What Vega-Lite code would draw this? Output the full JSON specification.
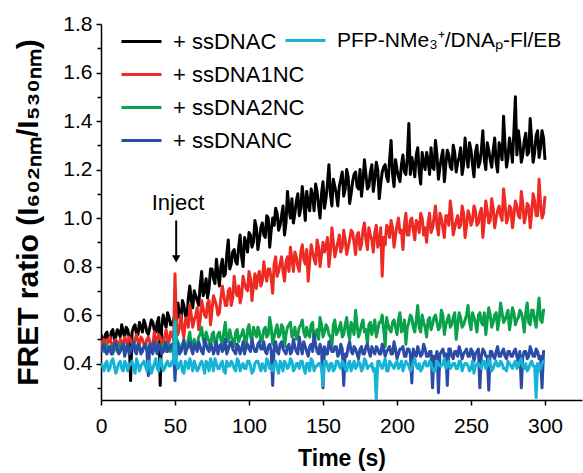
{
  "$schema": "https://vega.github.io/schema/vega-lite/v6.json",
  "width": 481,
  "height": 376,
  "autosize": {"type": "none"},
  "padding": {"left": 101, "top": 24, "right": 1, "bottom": 73},
  "background": "white",
  "config": {
    "view": {"stroke": null},
    "font": "Liberation Sans",
    "axis": {
      "domainColor": "#000000", "domainWidth": 1.5, "tickColor": "#000000", "tickWidth": 1.5, "tickSize": 5,
      "labelColor": "#000000", "labelFont": "Liberation Sans", "labelFontSize": 21,
      "titleColor": "#000000", "titleFont": "Liberation Sans", "titleFontWeight": "bold",
      "grid": false, "labelOverlap": false, "labelFlush": false, "labelBound": false
    },
    "legend": {"labelFontSize": 22, "labelLimit": 400, "labelColor": "#000000", "labelFont": "Liberation Sans"}
  },
  "datasets": {
    "ts": [
      {"t":0,"C":0.52,"N1":0.47,"N2":0.47,"NC":0.45,"P":0.40},
      {"t":2,"C":0.49,"N1":0.50,"N2":0.45,"NC":0.48,"P":0.37},
      {"t":4,"C":0.53,"N1":0.48,"N2":0.48,"NC":0.44,"P":0.41},
      {"t":6,"C":0.50,"N1":0.51,"N2":0.46,"NC":0.47,"P":0.38},
      {"t":8,"C":0.54,"N1":0.47,"N2":0.44,"NC":0.45,"P":0.42},
      {"t":10,"C":0.51,"N1":0.50,"N2":0.48,"NC":0.49,"P":0.36},
      {"t":12,"C":0.53,"N1":0.46,"N2":0.46,"NC":0.44,"P":0.40},
      {"t":14,"C":0.56,"N1":0.49,"N2":0.47,"NC":0.47,"P":0.38},
      {"t":16,"C":0.51,"N1":0.51,"N2":0.45,"NC":0.43,"P":0.41},
      {"t":18,"C":0.54,"N1":0.48,"N2":0.48,"NC":0.48,"P":0.37},
      {"t":20,"C":0.33,"N1":0.50,"N2":0.46,"NC":0.45,"P":0.40},
      {"t":22,"C":0.55,"N1":0.47,"N2":0.49,"NC":0.49,"P":0.38},
      {"t":24,"C":0.52,"N1":0.52,"N2":0.45,"NC":0.44,"P":0.42},
      {"t":26,"C":0.57,"N1":0.48,"N2":0.47,"NC":0.47,"P":0.37},
      {"t":28,"C":0.53,"N1":0.50,"N2":0.46,"NC":0.45,"P":0.40},
      {"t":30,"C":0.56,"N1":0.47,"N2":0.48,"NC":0.48,"P":0.39},
      {"t":32,"C":0.52,"N1":0.51,"N2":0.45,"NC":0.35,"P":0.41},
      {"t":34,"C":0.58,"N1":0.48,"N2":0.47,"NC":0.46,"P":0.36},
      {"t":36,"C":0.54,"N1":0.53,"N2":0.46,"NC":0.49,"P":0.40},
      {"t":38,"C":0.57,"N1":0.49,"N2":0.48,"NC":0.44,"P":0.38},
      {"t":40,"C":0.31,"N1":0.51,"N2":0.46,"NC":0.47,"P":0.42},
      {"t":42,"C":0.60,"N1":0.48,"N2":0.47,"NC":0.45,"P":0.37},
      {"t":44,"C":0.55,"N1":0.54,"N2":0.45,"NC":0.49,"P":0.40},
      {"t":46,"C":0.59,"N1":0.49,"N2":0.48,"NC":0.46,"P":0.39},
      {"t":48,"C":0.56,"N1":0.52,"N2":0.47,"NC":0.48,"P":0.41},
      {"t":50,"C":0.60,"N1":0.77,"N2":0.58,"NC":0.33,"P":0.57},
      {"t":52,"C":0.65,"N1":0.52,"N2":0.49,"NC":0.48,"P":0.38},
      {"t":54,"C":0.57,"N1":0.60,"N2":0.45,"NC":0.45,"P":0.41},
      {"t":56,"C":0.64,"N1":0.51,"N2":0.49,"NC":0.50,"P":0.36},
      {"t":58,"C":0.58,"N1":0.59,"N2":0.47,"NC":0.46,"P":0.40},
      {"t":60,"C":0.72,"N1":0.64,"N2":0.53,"NC":0.49,"P":0.42},
      {"t":62,"C":0.63,"N1":0.55,"N2":0.48,"NC":0.44,"P":0.37},
      {"t":64,"C":0.68,"N1":0.60,"N2":0.46,"NC":0.47,"P":0.39},
      {"t":66,"C":0.64,"N1":0.54,"N2":0.51,"NC":0.49,"P":0.38},
      {"t":68,"C":0.78,"N1":0.66,"N2":0.55,"NC":0.45,"P":0.41},
      {"t":70,"C":0.70,"N1":0.60,"N2":0.48,"NC":0.50,"P":0.36},
      {"t":72,"C":0.67,"N1":0.65,"N2":0.51,"NC":0.46,"P":0.40},
      {"t":74,"C":0.79,"N1":0.56,"N2":0.46,"NC":0.48,"P":0.42},
      {"t":76,"C":0.75,"N1":0.68,"N2":0.53,"NC":0.44,"P":0.37},
      {"t":78,"C":0.83,"N1":0.64,"N2":0.49,"NC":0.49,"P":0.40},
      {"t":80,"C":0.72,"N1":0.61,"N2":0.53,"NC":0.47,"P":0.38},
      {"t":82,"C":0.83,"N1":0.72,"N2":0.48,"NC":0.45,"P":0.41},
      {"t":84,"C":0.77,"N1":0.64,"N2":0.57,"NC":0.50,"P":0.36},
      {"t":86,"C":0.91,"N1":0.70,"N2":0.49,"NC":0.46,"P":0.39},
      {"t":88,"C":0.81,"N1":0.64,"N2":0.51,"NC":0.49,"P":0.41},
      {"t":90,"C":0.87,"N1":0.76,"N2":0.47,"NC":0.45,"P":0.38},
      {"t":92,"C":0.81,"N1":0.68,"N2":0.54,"NC":0.48,"P":0.42},
      {"t":94,"C":0.93,"N1":0.65,"N2":0.51,"NC":0.44,"P":0.37},
      {"t":96,"C":0.80,"N1":0.76,"N2":0.54,"NC":0.49,"P":0.40},
      {"t":98,"C":0.90,"N1":0.71,"N2":0.47,"NC":0.47,"P":0.38},
      {"t":100,"C":0.94,"N1":0.78,"N2":0.56,"NC":0.46,"P":0.41},
      {"t":102,"C":0.88,"N1":0.66,"N2":0.50,"NC":0.50,"P":0.36},
      {"t":104,"C":0.99,"N1":0.77,"N2":0.53,"NC":0.45,"P":0.40},
      {"t":106,"C":0.87,"N1":0.76,"N2":0.55,"NC":0.48,"P":0.41},
      {"t":108,"C":0.96,"N1":0.72,"N2":0.49,"NC":0.46,"P":0.37},
      {"t":110,"C":0.93,"N1":0.82,"N2":0.54,"NC":0.49,"P":0.39},
      {"t":112,"C":1.01,"N1":0.74,"N2":0.51,"NC":0.44,"P":0.42},
      {"t":114,"C":0.88,"N1":0.79,"N2":0.59,"NC":0.48,"P":0.38},
      {"t":116,"C":1.00,"N1":0.69,"N2":0.48,"NC":0.31,"P":0.37},
      {"t":118,"C":1.04,"N1":0.84,"N2":0.54,"NC":0.49,"P":0.41},
      {"t":120,"C":0.95,"N1":0.78,"N2":0.51,"NC":0.44,"P":0.36},
      {"t":122,"C":1.01,"N1":0.84,"N2":0.56,"NC":0.49,"P":0.40},
      {"t":124,"C":0.93,"N1":0.74,"N2":0.47,"NC":0.45,"P":0.41},
      {"t":126,"C":1.11,"N1":0.84,"N2":0.55,"NC":0.47,"P":0.38},
      {"t":128,"C":1.00,"N1":0.88,"N2":0.57,"NC":0.44,"P":0.42},
      {"t":130,"C":0.98,"N1":0.78,"N2":0.52,"NC":0.50,"P":0.37},
      {"t":132,"C":1.07,"N1":0.84,"N2":0.50,"NC":0.45,"P":0.40},
      {"t":134,"C":1.01,"N1":0.78,"N2":0.55,"NC":0.51,"P":0.38},
      {"t":136,"C":1.13,"N1":0.89,"N2":0.58,"NC":0.44,"P":0.41},
      {"t":138,"C":0.99,"N1":0.81,"N2":0.51,"NC":0.47,"P":0.36},
      {"t":140,"C":1.06,"N1":0.74,"N2":0.52,"NC":0.43,"P":0.40},
      {"t":142,"C":1.12,"N1":0.89,"N2":0.56,"NC":0.48,"P":0.42},
      {"t":144,"C":1.03,"N1":0.83,"N2":0.49,"NC":0.52,"P":0.37},
      {"t":146,"C":1.11,"N1":0.91,"N2":0.54,"NC":0.45,"P":0.39},
      {"t":148,"C":1.00,"N1":0.80,"N2":0.59,"NC":0.48,"P":0.40},
      {"t":150,"C":1.15,"N1":0.90,"N2":0.51,"NC":0.30,"P":0.31},
      {"t":152,"C":1.08,"N1":0.88,"N2":0.56,"NC":0.44,"P":0.41},
      {"t":154,"C":1.22,"N1":0.80,"N2":0.52,"NC":0.49,"P":0.37},
      {"t":156,"C":1.05,"N1":0.96,"N2":0.47,"NC":0.45,"P":0.40},
      {"t":158,"C":1.13,"N1":0.84,"N2":0.58,"NC":0.47,"P":0.38},
      {"t":160,"C":1.05,"N1":0.90,"N2":0.53,"NC":0.43,"P":0.41},
      {"t":162,"C":1.16,"N1":0.86,"N2":0.57,"NC":0.48,"P":0.38},
      {"t":164,"C":1.09,"N1":0.95,"N2":0.52,"NC":0.31,"P":0.40},
      {"t":166,"C":1.20,"N1":0.85,"N2":0.59,"NC":0.43,"P":0.37},
      {"t":168,"C":1.06,"N1":0.91,"N2":0.50,"NC":0.49,"P":0.41},
      {"t":170,"C":1.15,"N1":0.94,"N2":0.55,"NC":0.44,"P":0.39},
      {"t":172,"C":1.19,"N1":0.85,"N2":0.62,"NC":0.46,"P":0.38},
      {"t":174,"C":1.12,"N1":0.94,"N2":0.51,"NC":0.42,"P":0.41},
      {"t":176,"C":1.09,"N1":0.89,"N2":0.56,"NC":0.47,"P":0.37},
      {"t":178,"C":1.24,"N1":0.98,"N2":0.53,"NC":0.44,"P":0.42},
      {"t":180,"C":1.12,"N1":0.87,"N2":0.48,"NC":0.48,"P":0.38},
      {"t":182,"C":1.19,"N1":0.93,"N2":0.57,"NC":0.43,"P":0.39},
      {"t":184,"C":1.11,"N1":0.86,"N2":0.55,"NC":0.45,"P":0.37},
      {"t":186,"C":1.23,"N1":0.97,"N2":0.51,"NC":0.47,"P":0.25},
      {"t":188,"C":1.08,"N1":0.90,"N2":0.57,"NC":0.44,"P":0.41},
      {"t":190,"C":1.19,"N1":0.76,"N2":0.60,"NC":0.48,"P":0.38},
      {"t":192,"C":1.22,"N1":0.89,"N2":0.47,"NC":0.43,"P":0.42},
      {"t":194,"C":1.15,"N1":0.96,"N2":0.56,"NC":0.46,"P":0.37},
      {"t":196,"C":1.32,"N1":0.99,"N2":0.53,"NC":0.44,"P":0.40},
      {"t":198,"C":1.13,"N1":0.88,"N2":0.58,"NC":0.49,"P":0.38},
      {"t":200,"C":1.20,"N1":0.97,"N2":0.52,"NC":0.42,"P":0.41},
      {"t":202,"C":1.15,"N1":0.94,"N2":0.61,"NC":0.46,"P":0.39},
      {"t":204,"C":1.26,"N1":0.87,"N2":0.54,"NC":0.47,"P":0.37},
      {"t":206,"C":1.18,"N1":1.02,"N2":0.48,"NC":0.43,"P":0.41},
      {"t":208,"C":1.39,"N1":0.93,"N2":0.57,"NC":0.46,"P":0.39},
      {"t":210,"C":1.25,"N1":1.00,"N2":0.59,"NC":0.32,"P":0.38},
      {"t":212,"C":1.17,"N1":0.91,"N2":0.53,"NC":0.44,"P":0.42},
      {"t":214,"C":1.29,"N1":0.98,"N2":0.64,"NC":0.47,"P":0.38},
      {"t":216,"C":1.14,"N1":1.02,"N2":0.53,"NC":0.43,"P":0.37},
      {"t":218,"C":1.23,"N1":0.93,"N2":0.57,"NC":0.48,"P":0.40},
      {"t":220,"C":1.27,"N1":0.90,"N2":0.51,"NC":0.43,"P":0.39},
      {"t":222,"C":1.18,"N1":1.02,"N2":0.59,"NC":0.45,"P":0.41},
      {"t":224,"C":1.21,"N1":0.96,"N2":0.56,"NC":0.30,"P":0.38},
      {"t":226,"C":1.32,"N1":1.05,"N2":0.60,"NC":0.42,"P":0.37},
      {"t":228,"C":1.16,"N1":0.93,"N2":0.54,"NC":0.28,"P":0.40},
      {"t":230,"C":1.25,"N1":1.00,"N2":0.62,"NC":0.45,"P":0.39},
      {"t":232,"C":1.15,"N1":0.92,"N2":0.52,"NC":0.43,"P":0.42},
      {"t":234,"C":1.28,"N1":1.01,"N2":0.58,"NC":0.31,"P":0.39},
      {"t":236,"C":1.21,"N1":1.07,"N2":0.55,"NC":0.46,"P":0.38},
      {"t":238,"C":1.30,"N1":0.93,"N2":0.59,"NC":0.42,"P":0.40},
      {"t":240,"C":1.19,"N1":0.99,"N2":0.50,"NC":0.45,"P":0.38},
      {"t":242,"C":1.25,"N1":0.96,"N2":0.61,"NC":0.47,"P":0.41},
      {"t":244,"C":1.18,"N1":1.05,"N2":0.55,"NC":0.42,"P":0.37},
      {"t":246,"C":1.33,"N1":0.92,"N2":0.58,"NC":0.45,"P":0.40},
      {"t":248,"C":1.21,"N1":1.03,"N2":0.64,"NC":0.43,"P":0.39},
      {"t":250,"C":1.28,"N1":0.97,"N2":0.54,"NC":0.46,"P":0.38},
      {"t":252,"C":1.17,"N1":1.05,"N2":0.59,"NC":0.41,"P":0.36},
      {"t":254,"C":1.30,"N1":0.97,"N2":0.53,"NC":0.45,"P":0.40},
      {"t":256,"C":1.23,"N1":1.02,"N2":0.61,"NC":0.30,"P":0.39},
      {"t":258,"C":1.36,"N1":0.92,"N2":0.56,"NC":0.46,"P":0.41},
      {"t":260,"C":1.20,"N1":1.07,"N2":0.52,"NC":0.43,"P":0.38},
      {"t":262,"C":1.28,"N1":0.98,"N2":0.63,"NC":0.29,"P":0.42},
      {"t":264,"C":1.21,"N1":1.08,"N2":0.55,"NC":0.45,"P":0.37},
      {"t":266,"C":1.33,"N1":0.96,"N2":0.60,"NC":0.42,"P":0.40},
      {"t":268,"C":1.19,"N1":1.03,"N2":0.54,"NC":0.47,"P":0.39},
      {"t":270,"C":1.28,"N1":1.01,"N2":0.65,"NC":0.43,"P":0.41},
      {"t":272,"C":1.42,"N1":1.12,"N2":0.57,"NC":0.46,"P":0.38},
      {"t":274,"C":1.21,"N1":0.98,"N2":0.60,"NC":0.42,"P":0.37},
      {"t":276,"C":1.33,"N1":1.05,"N2":0.54,"NC":0.45,"P":0.40},
      {"t":278,"C":1.23,"N1":0.96,"N2":0.63,"NC":0.43,"P":0.38},
      {"t":280,"C":1.50,"N1":1.07,"N2":0.56,"NC":0.46,"P":0.41},
      {"t":282,"C":1.36,"N1":1.01,"N2":0.59,"NC":0.41,"P":0.39},
      {"t":284,"C":1.23,"N1":1.11,"N2":0.61,"NC":0.30,"P":0.42},
      {"t":286,"C":1.32,"N1":0.98,"N2":0.53,"NC":0.45,"P":0.38},
      {"t":288,"C":1.26,"N1":1.06,"N2":0.65,"NC":0.42,"P":0.37},
      {"t":290,"C":1.41,"N1":0.96,"N2":0.56,"NC":0.47,"P":0.40},
      {"t":292,"C":1.23,"N1":1.10,"N2":0.62,"NC":0.43,"P":0.39},
      {"t":294,"C":1.34,"N1":1.01,"N2":0.55,"NC":0.46,"P":0.26},
      {"t":296,"C":1.25,"N1":1.16,"N2":0.67,"NC":0.42,"P":0.37},
      {"t":298,"C":1.36,"N1":1.00,"N2":0.57,"NC":0.30,"P":0.40},
      {"t":300,"C":1.24,"N1":1.09,"N2":0.62,"NC":0.45,"P":0.41},
      {"t":1,"C":0.50,"N1":0.49,"N2":0.46,"NC":0.47,"P":0.39},
      {"t":3,"C":0.52,"N1":0.46,"N2":0.47,"NC":0.45,"P":0.40},
      {"t":5,"C":0.49,"N1":0.50,"N2":0.45,"NC":0.46,"P":0.37},
      {"t":7,"C":0.53,"N1":0.48,"N2":0.47,"NC":0.44,"P":0.41},
      {"t":9,"C":0.50,"N1":0.49,"N2":0.46,"NC":0.48,"P":0.39},
      {"t":11,"C":0.54,"N1":0.48,"N2":0.45,"NC":0.46,"P":0.38},
      {"t":13,"C":0.51,"N1":0.50,"N2":0.48,"NC":0.45,"P":0.41},
      {"t":15,"C":0.53,"N1":0.47,"N2":0.46,"NC":0.48,"P":0.37},
      {"t":17,"C":0.55,"N1":0.49,"N2":0.47,"NC":0.46,"P":0.40},
      {"t":19,"C":0.51,"N1":0.51,"N2":0.45,"NC":0.44,"P":0.39},
      {"t":21,"C":0.53,"N1":0.48,"N2":0.47,"NC":0.47,"P":0.41},
      {"t":23,"C":0.56,"N1":0.50,"N2":0.46,"NC":0.45,"P":0.36},
      {"t":25,"C":0.52,"N1":0.49,"N2":0.48,"NC":0.48,"P":0.40},
      {"t":27,"C":0.55,"N1":0.51,"N2":0.45,"NC":0.44,"P":0.39},
      {"t":29,"C":0.58,"N1":0.48,"N2":0.47,"NC":0.47,"P":0.41},
      {"t":31,"C":0.53,"N1":0.50,"N2":0.46,"NC":0.45,"P":0.37},
      {"t":33,"C":0.55,"N1":0.49,"N2":0.48,"NC":0.48,"P":0.40},
      {"t":35,"C":0.57,"N1":0.47,"N2":0.45,"NC":0.44,"P":0.38},
      {"t":37,"C":0.53,"N1":0.50,"N2":0.47,"NC":0.46,"P":0.42},
      {"t":39,"C":0.59,"N1":0.52,"N2":0.46,"NC":0.48,"P":0.37},
      {"t":41,"C":0.55,"N1":0.49,"N2":0.48,"NC":0.44,"P":0.40},
      {"t":43,"C":0.57,"N1":0.51,"N2":0.46,"NC":0.47,"P":0.38},
      {"t":45,"C":0.61,"N1":0.50,"N2":0.47,"NC":0.45,"P":0.41},
      {"t":47,"C":0.56,"N1":0.53,"N2":0.45,"NC":0.47,"P":0.39},
      {"t":49,"C":0.58,"N1":0.50,"N2":0.48,"NC":0.46,"P":0.40},
      {"t":51,"C":0.58,"N1":0.56,"N2":0.50,"NC":0.46,"P":0.40},
      {"t":53,"C":0.60,"N1":0.55,"N2":0.47,"NC":0.44,"P":0.40},
      {"t":55,"C":0.66,"N1":0.54,"N2":0.48,"NC":0.47,"P":0.37},
      {"t":57,"C":0.60,"N1":0.58,"N2":0.46,"NC":0.44,"P":0.41},
      {"t":59,"C":0.67,"N1":0.55,"N2":0.50,"NC":0.47,"P":0.38},
      {"t":61,"C":0.66,"N1":0.60,"N2":0.47,"NC":0.46,"P":0.40},
      {"t":63,"C":0.70,"N1":0.58,"N2":0.50,"NC":0.48,"P":0.41},
      {"t":65,"C":0.66,"N1":0.63,"N2":0.48,"NC":0.45,"P":0.37},
      {"t":67,"C":0.72,"N1":0.58,"N2":0.52,"NC":0.47,"P":0.40},
      {"t":69,"C":0.68,"N1":0.63,"N2":0.50,"NC":0.44,"P":0.39},
      {"t":71,"C":0.75,"N1":0.59,"N2":0.53,"NC":0.48,"P":0.41},
      {"t":73,"C":0.71,"N1":0.66,"N2":0.49,"NC":0.45,"P":0.37},
      {"t":75,"C":0.79,"N1":0.62,"N2":0.52,"NC":0.47,"P":0.40},
      {"t":77,"C":0.73,"N1":0.66,"N2":0.48,"NC":0.46,"P":0.42},
      {"t":79,"C":0.77,"N1":0.60,"N2":0.52,"NC":0.44,"P":0.38},
      {"t":81,"C":0.80,"N1":0.67,"N2":0.50,"NC":0.48,"P":0.40},
      {"t":83,"C":0.76,"N1":0.68,"N2":0.53,"NC":0.46,"P":0.37},
      {"t":85,"C":0.85,"N1":0.64,"N2":0.50,"NC":0.44,"P":0.41},
      {"t":87,"C":0.79,"N1":0.71,"N2":0.54,"NC":0.48,"P":0.39},
      {"t":89,"C":0.86,"N1":0.67,"N2":0.50,"NC":0.46,"P":0.40},
      {"t":91,"C":0.82,"N1":0.70,"N2":0.53,"NC":0.44,"P":0.37},
      {"t":93,"C":0.88,"N1":0.72,"N2":0.49,"NC":0.47,"P":0.41},
      {"t":95,"C":0.84,"N1":0.68,"N2":0.52,"NC":0.46,"P":0.39},
      {"t":97,"C":0.92,"N1":0.73,"N2":0.50,"NC":0.44,"P":0.38},
      {"t":99,"C":0.86,"N1":0.70,"N2":0.54,"NC":0.48,"P":0.41},
      {"t":101,"C":0.93,"N1":0.75,"N2":0.51,"NC":0.45,"P":0.39},
      {"t":103,"C":0.90,"N1":0.72,"N2":0.55,"NC":0.47,"P":0.37},
      {"t":105,"C":0.96,"N1":0.71,"N2":0.51,"NC":0.45,"P":0.41},
      {"t":107,"C":0.91,"N1":0.78,"N2":0.53,"NC":0.49,"P":0.39},
      {"t":109,"C":0.98,"N1":0.74,"N2":0.50,"NC":0.46,"P":0.40},
      {"t":111,"C":0.92,"N1":0.77,"N2":0.55,"NC":0.45,"P":0.37},
      {"t":113,"C":1.00,"N1":0.79,"N2":0.52,"NC":0.47,"P":0.41},
      {"t":115,"C":0.95,"N1":0.75,"N2":0.55,"NC":0.45,"P":0.39},
      {"t":117,"C":0.97,"N1":0.81,"N2":0.51,"NC":0.47,"P":0.40},
      {"t":119,"C":1.02,"N1":0.76,"N2":0.56,"NC":0.45,"P":0.38},
      {"t":121,"C":0.97,"N1":0.81,"N2":0.52,"NC":0.48,"P":0.41},
      {"t":123,"C":1.05,"N1":0.78,"N2":0.55,"NC":0.46,"P":0.37},
      {"t":125,"C":0.98,"N1":0.82,"N2":0.52,"NC":0.44,"P":0.40},
      {"t":127,"C":1.04,"N1":0.78,"N2":0.56,"NC":0.48,"P":0.39},
      {"t":129,"C":1.08,"N1":0.83,"N2":0.51,"NC":0.45,"P":0.41},
      {"t":131,"C":1.02,"N1":0.86,"N2":0.55,"NC":0.47,"P":0.38},
      {"t":133,"C":1.10,"N1":0.80,"N2":0.52,"NC":0.44,"P":0.40},
      {"t":135,"C":1.04,"N1":0.86,"N2":0.56,"NC":0.47,"P":0.41},
      {"t":137,"C":1.07,"N1":0.83,"N2":0.53,"NC":0.49,"P":0.38},
      {"t":139,"C":1.11,"N1":0.87,"N2":0.55,"NC":0.45,"P":0.40},
      {"t":141,"C":1.03,"N1":0.82,"N2":0.51,"NC":0.47,"P":0.37},
      {"t":143,"C":1.09,"N1":0.86,"N2":0.57,"NC":0.45,"P":0.41},
      {"t":145,"C":1.14,"N1":0.81,"N2":0.53,"NC":0.48,"P":0.39},
      {"t":147,"C":1.05,"N1":0.88,"N2":0.50,"NC":0.44,"P":0.40},
      {"t":149,"C":1.10,"N1":0.85,"N2":0.56,"NC":0.46,"P":0.38},
      {"t":151,"C":1.04,"N1":0.86,"N2":0.53,"NC":0.47,"P":0.41},
      {"t":153,"C":1.14,"N1":0.92,"N2":0.55,"NC":0.44,"P":0.39},
      {"t":155,"C":1.10,"N1":0.86,"N2":0.51,"NC":0.47,"P":0.40},
      {"t":157,"C":1.16,"N1":0.90,"N2":0.56,"NC":0.45,"P":0.37},
      {"t":159,"C":1.10,"N1":0.87,"N2":0.52,"NC":0.47,"P":0.41},
      {"t":161,"C":1.13,"N1":0.93,"N2":0.55,"NC":0.44,"P":0.39},
      {"t":163,"C":1.19,"N1":0.88,"N2":0.51,"NC":0.46,"P":0.41},
      {"t":165,"C":1.12,"N1":0.91,"N2":0.56,"NC":0.44,"P":0.38},
      {"t":167,"C":1.17,"N1":0.88,"N2":0.53,"NC":0.47,"P":0.40},
      {"t":169,"C":1.10,"N1":0.95,"N2":0.57,"NC":0.45,"P":0.37},
      {"t":171,"C":1.18,"N1":0.90,"N2":0.52,"NC":0.47,"P":0.41},
      {"t":173,"C":1.13,"N1":0.93,"N2":0.56,"NC":0.44,"P":0.39},
      {"t":175,"C":1.20,"N1":0.87,"N2":0.53,"NC":0.46,"P":0.40},
      {"t":177,"C":1.15,"N1":0.95,"N2":0.58,"NC":0.44,"P":0.38},
      {"t":179,"C":1.18,"N1":0.91,"N2":0.54,"NC":0.47,"P":0.41},
      {"t":181,"C":1.13,"N1":0.96,"N2":0.56,"NC":0.45,"P":0.39},
      {"t":183,"C":1.22,"N1":0.91,"N2":0.52,"NC":0.47,"P":0.40},
      {"t":185,"C":1.16,"N1":0.94,"N2":0.58,"NC":0.44,"P":0.38},
      {"t":187,"C":1.20,"N1":0.88,"N2":0.54,"NC":0.46,"P":0.41},
      {"t":189,"C":1.14,"N1":0.96,"N2":0.57,"NC":0.44,"P":0.39},
      {"t":191,"C":1.21,"N1":0.92,"N2":0.54,"NC":0.46,"P":0.40},
      {"t":193,"C":1.17,"N1":0.97,"N2":0.59,"NC":0.45,"P":0.37},
      {"t":195,"C":1.24,"N1":0.92,"N2":0.54,"NC":0.47,"P":0.41},
      {"t":197,"C":1.18,"N1":0.96,"N2":0.57,"NC":0.44,"P":0.39},
      {"t":199,"C":1.24,"N1":0.93,"N2":0.55,"NC":0.46,"P":0.40},
      {"t":201,"C":1.17,"N1":1.00,"N2":0.58,"NC":0.44,"P":0.38},
      {"t":203,"C":1.22,"N1":0.95,"N2":0.53,"NC":0.46,"P":0.41},
      {"t":205,"C":1.19,"N1":0.97,"N2":0.58,"NC":0.43,"P":0.39},
      {"t":207,"C":1.25,"N1":0.93,"N2":0.55,"NC":0.46,"P":0.40},
      {"t":209,"C":1.18,"N1":0.99,"N2":0.60,"NC":0.44,"P":0.37},
      {"t":211,"C":1.22,"N1":0.95,"N2":0.55,"NC":0.46,"P":0.41},
      {"t":213,"C":1.26,"N1":0.99,"N2":0.58,"NC":0.43,"P":0.39},
      {"t":215,"C":1.19,"N1":0.94,"N2":0.55,"NC":0.45,"P":0.40},
      {"t":217,"C":1.27,"N1":1.00,"N2":0.60,"NC":0.44,"P":0.38},
      {"t":219,"C":1.20,"N1":0.96,"N2":0.55,"NC":0.46,"P":0.41},
      {"t":221,"C":1.24,"N1":0.98,"N2":0.58,"NC":0.43,"P":0.39},
      {"t":223,"C":1.29,"N1":0.94,"N2":0.54,"NC":0.45,"P":0.40},
      {"t":225,"C":1.20,"N1":1.00,"N2":0.59,"NC":0.43,"P":0.37},
      {"t":227,"C":1.26,"N1":0.97,"N2":0.57,"NC":0.45,"P":0.41},
      {"t":229,"C":1.21,"N1":1.02,"N2":0.55,"NC":0.44,"P":0.39},
      {"t":231,"C":1.28,"N1":0.96,"N2":0.60,"NC":0.46,"P":0.40},
      {"t":233,"C":1.22,"N1":1.01,"N2":0.56,"NC":0.44,"P":0.38},
      {"t":235,"C":1.26,"N1":0.97,"N2":0.60,"NC":0.46,"P":0.41},
      {"t":237,"C":1.20,"N1":1.02,"N2":0.56,"NC":0.43,"P":0.39},
      {"t":239,"C":1.27,"N1":0.96,"N2":0.61,"NC":0.45,"P":0.40},
      {"t":241,"C":1.23,"N1":1.01,"N2":0.56,"NC":0.43,"P":0.38},
      {"t":243,"C":1.29,"N1":0.97,"N2":0.59,"NC":0.45,"P":0.41},
      {"t":245,"C":1.22,"N1":1.02,"N2":0.56,"NC":0.44,"P":0.39},
      {"t":247,"C":1.26,"N1":0.97,"N2":0.60,"NC":0.46,"P":0.40},
      {"t":249,"C":1.31,"N1":1.01,"N2":0.57,"NC":0.43,"P":0.37},
      {"t":251,"C":1.22,"N1":0.99,"N2":0.61,"NC":0.45,"P":0.41},
      {"t":253,"C":1.27,"N1":1.03,"N2":0.57,"NC":0.44,"P":0.39},
      {"t":255,"C":1.21,"N1":0.98,"N2":0.60,"NC":0.46,"P":0.40},
      {"t":257,"C":1.28,"N1":1.04,"N2":0.57,"NC":0.43,"P":0.38},
      {"t":259,"C":1.24,"N1":0.99,"N2":0.61,"NC":0.45,"P":0.41},
      {"t":261,"C":1.31,"N1":1.03,"N2":0.58,"NC":0.43,"P":0.39},
      {"t":263,"C":1.24,"N1":0.99,"N2":0.60,"NC":0.45,"P":0.40},
      {"t":265,"C":1.28,"N1":1.04,"N2":0.57,"NC":0.43,"P":0.38},
      {"t":267,"C":1.23,"N1":1.00,"N2":0.61,"NC":0.45,"P":0.41},
      {"t":269,"C":1.31,"N1":1.05,"N2":0.58,"NC":0.43,"P":0.39},
      {"t":271,"C":1.24,"N1":0.99,"N2":0.61,"NC":0.45,"P":0.40},
      {"t":273,"C":1.30,"N1":1.06,"N2":0.58,"NC":0.43,"P":0.38},
      {"t":275,"C":1.25,"N1":1.00,"N2":0.62,"NC":0.45,"P":0.41},
      {"t":277,"C":1.29,"N1":1.04,"N2":0.58,"NC":0.43,"P":0.39},
      {"t":279,"C":1.36,"N1":1.01,"N2":0.61,"NC":0.45,"P":0.40},
      {"t":281,"C":1.26,"N1":1.05,"N2":0.58,"NC":0.43,"P":0.38},
      {"t":283,"C":1.31,"N1":1.00,"N2":0.62,"NC":0.45,"P":0.41},
      {"t":285,"C":1.26,"N1":1.06,"N2":0.58,"NC":0.43,"P":0.39},
      {"t":287,"C":1.35,"N1":1.01,"N2":0.61,"NC":0.45,"P":0.40},
      {"t":289,"C":1.27,"N1":1.05,"N2":0.57,"NC":0.43,"P":0.38},
      {"t":291,"C":1.32,"N1":1.02,"N2":0.62,"NC":0.45,"P":0.41},
      {"t":293,"C":1.27,"N1":1.07,"N2":0.58,"NC":0.43,"P":0.39},
      {"t":295,"C":1.36,"N1":1.01,"N2":0.61,"NC":0.45,"P":0.40},
      {"t":297,"C":1.29,"N1":1.06,"N2":0.58,"NC":0.43,"P":0.38},
      {"t":299,"C":1.33,"N1":1.02,"N2":0.62,"NC":0.45,"P":0.41}
    ]
  },
  "layer": [
    {
      "data": {"name": "ts"},
      "transform": [{"fold": ["C", "N1", "N2", "NC"], "as": ["series", "v"]}],
      "mark": {"type": "line", "strokeWidth": 3, "strokeJoin": "round", "clip": true},
      "encoding": {
        "x": {
          "field": "t", "type": "quantitative",
          "scale": {"domain": [0, 325], "nice": false, "zero": false},
          "axis": {
            "title": "Time (s)", "titleFontSize": 23, "titlePadding": 11, "labelPadding": 10, "labelOverlap": false,
            "values": [0, 25, 50, 75, 100, 125, 150, 175, 200, 225, 250, 275, 300, 325],
            "labelExpr": "datum.value % 50 === 0 && datum.value <= 300 ? datum.label : ''"
          }
        },
        "y": {
          "field": "v", "type": "quantitative",
          "scale": {"domain": [0.25, 1.8], "nice": false, "zero": false},
          "axis": {
            "orient": "left",
            "title": "FRET ratio (I₆₀₂ₙₘ/I₅₃₀ₙₘ)", "titleFontSize": 30, "titlePadding": 19, "labelPadding": 4, "labelOverlap": false,
            "format": ".1f",
            "values": [0.4, 0.6, 0.8, 1.0, 1.2, 1.4, 1.6, 1.8]
          }
        },
        "color": {
          "field": "series", "type": "nominal",
          "scale": {"domain": ["C", "N1", "N2", "NC"], "range": ["#000000", "#ee2a24", "#0aa14b", "#2b4ca6"]},
          "legend": {
            "orient": "none", "legendX": 29, "legendY": 6, "title": null,
            "symbolType": "M-2,0H2", "symbolSize": 400, "symbolStrokeWidth": 3,
            "labelFontSize": 22, "labelOffset": 20, "rowPadding": 10,
            "labelExpr": "datum.value === 'C' ? '+ ssDNAC' : datum.value === 'N1' ? '+ ssDNA1NC' : datum.value === 'N2' ? '+ ssDNA2NC' : '+ ssDNANC'"
          }
        }
      }
    },
    {
      "data": {"name": "ts"},
      "transform": [{"fold": ["P"], "as": ["series", "v"]}],
      "mark": {"type": "line", "strokeWidth": 3, "strokeJoin": "round", "clip": true},
      "encoding": {
        "x": {"field": "t", "type": "quantitative"},
        "y": {
          "field": "v", "type": "quantitative",
          "axis": {
            "orient": "left", "title": null, "labels": false, "domain": false, "ticks": true, "tickSize": 4,
            "values": [0.3, 0.5, 0.7, 0.9, 1.1, 1.3, 1.5, 1.7]
          }
        },
        "color": {
          "field": "series", "type": "nominal",
          "scale": {"domain": ["P"], "range": ["#15b4d6"]},
          "legend": {
            "orient": "none", "legendX": 193, "legendY": 5, "title": null,
            "symbolType": "M-2,0H2", "symbolSize": 400, "symbolStrokeWidth": 3,
            "labelFontSize": 21, "labelOffset": 20, "labelLimit": 400,
            "labelExpr": "'PFP-NMe₃⁺/DNAₚ-Fl/EB'"
          }
        }
      }
    },
    {
      "data": {"values": [{}]},
      "mark": {"type": "text", "text": "Inject", "fontSize": 22, "font": "Liberation Sans", "baseline": "alphabetic", "align": "center", "color": "#000000"},
      "encoding": {"x": {"datum": 52}, "y": {"datum": 1.033, "axis": null}}
    },
    {
      "data": {"values": [{}]},
      "mark": {"type": "rule", "strokeWidth": 2, "color": "#000000"},
      "encoding": {"x": {"datum": 50.8}, "y": {"datum": 0.99, "axis": null}, "y2": {"datum": 0.84}}
    },
    {
      "data": {"values": [{}]},
      "mark": {"type": "point", "shape": "triangle-down", "filled": true, "size": 70, "color": "#000000", "opacity": 1},
      "encoding": {"x": {"datum": 50.8}, "y": {"datum": 0.832, "axis": null}}
    }
  ],
  "resolve": {"scale": {"color": "independent"}, "axis": {"y": "independent"}}
}
